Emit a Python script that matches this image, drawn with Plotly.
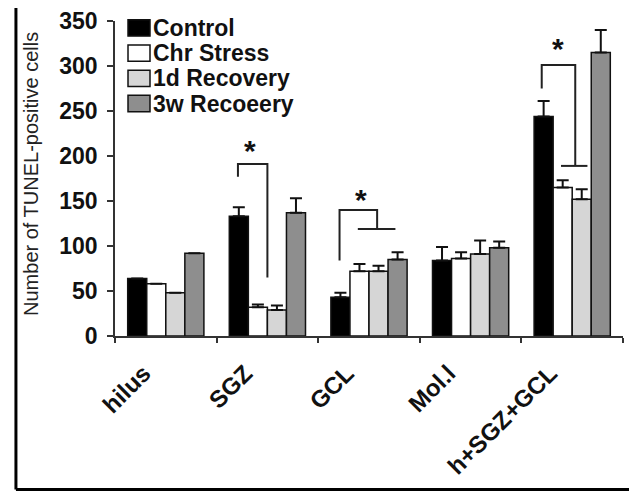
import plotly.graph_objects as go

categories = ["hilus", "SGZ", "GCL", "Mol.l", "h+SGZ+GCL"]
series_names = ["Control", "Chr Stress", "1d Recovery", "3w Recoeery"]
control = [64, 133, 43, 84, 244]
chr_stress = [58, 32, 72, 86, 165]
recovery_1d = [48, 29, 72, 91, 152]
recovery_3w = [92, 137, 85, 98, 315]
err_control = [0, 10, 5, 15, 17]
err_chr = [0, 3, 8, 7, 8]
err_1d = [0, 5, 6, 15, 11]
err_3w = [0, 16, 8, 7, 25]
y_ticks = [0, 50, 100, 150, 200, 250, 300, 350]

colors = ["#000000", "#ffffff", "#d6d6d6", "#8e8e8e"]
values = [control, chr_stress, recovery_1d, recovery_3w]
errors = [err_control, err_chr, err_1d, err_3w]

FONT = "Liberation Sans"

fig = go.Figure()
for name, vals, errs, col in zip(series_names, values, errors, colors):
    fig.add_trace(go.Bar(
        name=name, x=categories, y=vals, showlegend=False,
        marker=dict(color=col, line=dict(color="#111111", width=1.5)),
        error_y=dict(type="data", array=errs, symmetric=False, arrayminus=[0]*len(errs),
                     color="#111111", thickness=2, width=6),
    ))

# significance brackets (x in category index units, y in data units)
brackets = [
    [(0.71, 177), (0.71, 191), (1.0, 191), (1.0, 65)],
    [(1.71, 84), (1.71, 140), (2.08, 140), (2.08, 119)],
    [(1.89, 119), (2.26, 119)],
    [(3.70, 275), (3.70, 301), (4.03, 301), (4.03, 189)],
    [(3.89, 189), (4.15, 189)],
]
shapes = []
for pts in brackets:
    path = "M " + " L ".join(f"{x},{y}" for x, y in pts)
    shapes.append(dict(type="path", path=path, xref="x", yref="y",
                       line=dict(color="#222222", width=2)))

# outer frame lines
shapes.append(dict(type="line", xref="paper", yref="paper", x0=-0.195, x1=-0.195,
                   y0=1.041, y1=-0.487, line=dict(color="#000000", width=3)))
shapes.append(dict(type="line", xref="paper", yref="paper", x0=-0.195, x1=1.012,
                   y0=-0.487, y1=-0.487, line=dict(color="#000000", width=3)))

annotations = []
stars = [(0.83, 206), (1.92, 152), (3.86, 320)]
for x, y in stars:
    annotations.append(dict(x=x, y=y, xref="x", yref="y", text="<b>*</b>", showarrow=False,
                            font=dict(size=30, color="#111111", family=FONT)))

# custom legend (squares + labels)
legend_rows = [0.978, 0.898, 0.818, 0.738]
for name, col, yr in zip(series_names, colors, legend_rows):
    shapes.append(dict(type="rect", xref="paper", yref="paper",
                       x0=0.0256, x1=0.0689, y0=yr - 0.026, y1=yr + 0.026,
                       fillcolor=col, line=dict(color="#111111", width=1.5)))
    annotations.append(dict(x=0.071, y=yr, xref="paper", yref="paper", text=name,
                            xanchor="left", yanchor="middle", showarrow=False,
                            font=dict(size=23, color="#111111", family=FONT, weight="bold")))

# y-axis title
annotations.append(dict(x=-0.165, y=0.515, xref="paper", yref="paper",
                        text="Number of TUNEL-positive cells", textangle=-90,
                        xanchor="center", yanchor="middle", showarrow=False,
                        font=dict(size=20, color="#222222", family=FONT)))

fig.update_layout(
    width=629, height=491,
    margin=dict(l=115, r=6, t=21, b=155),
    paper_bgcolor="white", plot_bgcolor="white",
    barmode="group", bargap=0.25, bargroupgap=0,
    font=dict(family=FONT, color="#111111"),
    showlegend=False,
    shapes=shapes, annotations=annotations,
    xaxis=dict(showline=True, linecolor="#333333", linewidth=1.5, ticks="outside",
               tickson="boundaries", ticklen=5, tickcolor="#333333", tickwidth=1.5,
               tickangle=-45, tickfont=dict(size=24, weight="bold", family=FONT),
               ticklabelshift=-22, ticklabelstandoff=12,
               showgrid=False, range=[-0.5, 4.5], automargin=False),
    yaxis=dict(showline=True, linecolor="#333333", linewidth=1.5, ticks="outside",
               ticklen=6, tickcolor="#333333", tickwidth=1.5, range=[0, 350],
               tickvals=y_ticks, showgrid=False, zeroline=False, automargin=False,
               ticklabelstandoff=5,
               tickfont=dict(size=23, weight="bold", family=FONT)),
)

fig.write_html("out.html", config={"displayModeBar": False},
               post_script="document.body.style.margin='0';")
